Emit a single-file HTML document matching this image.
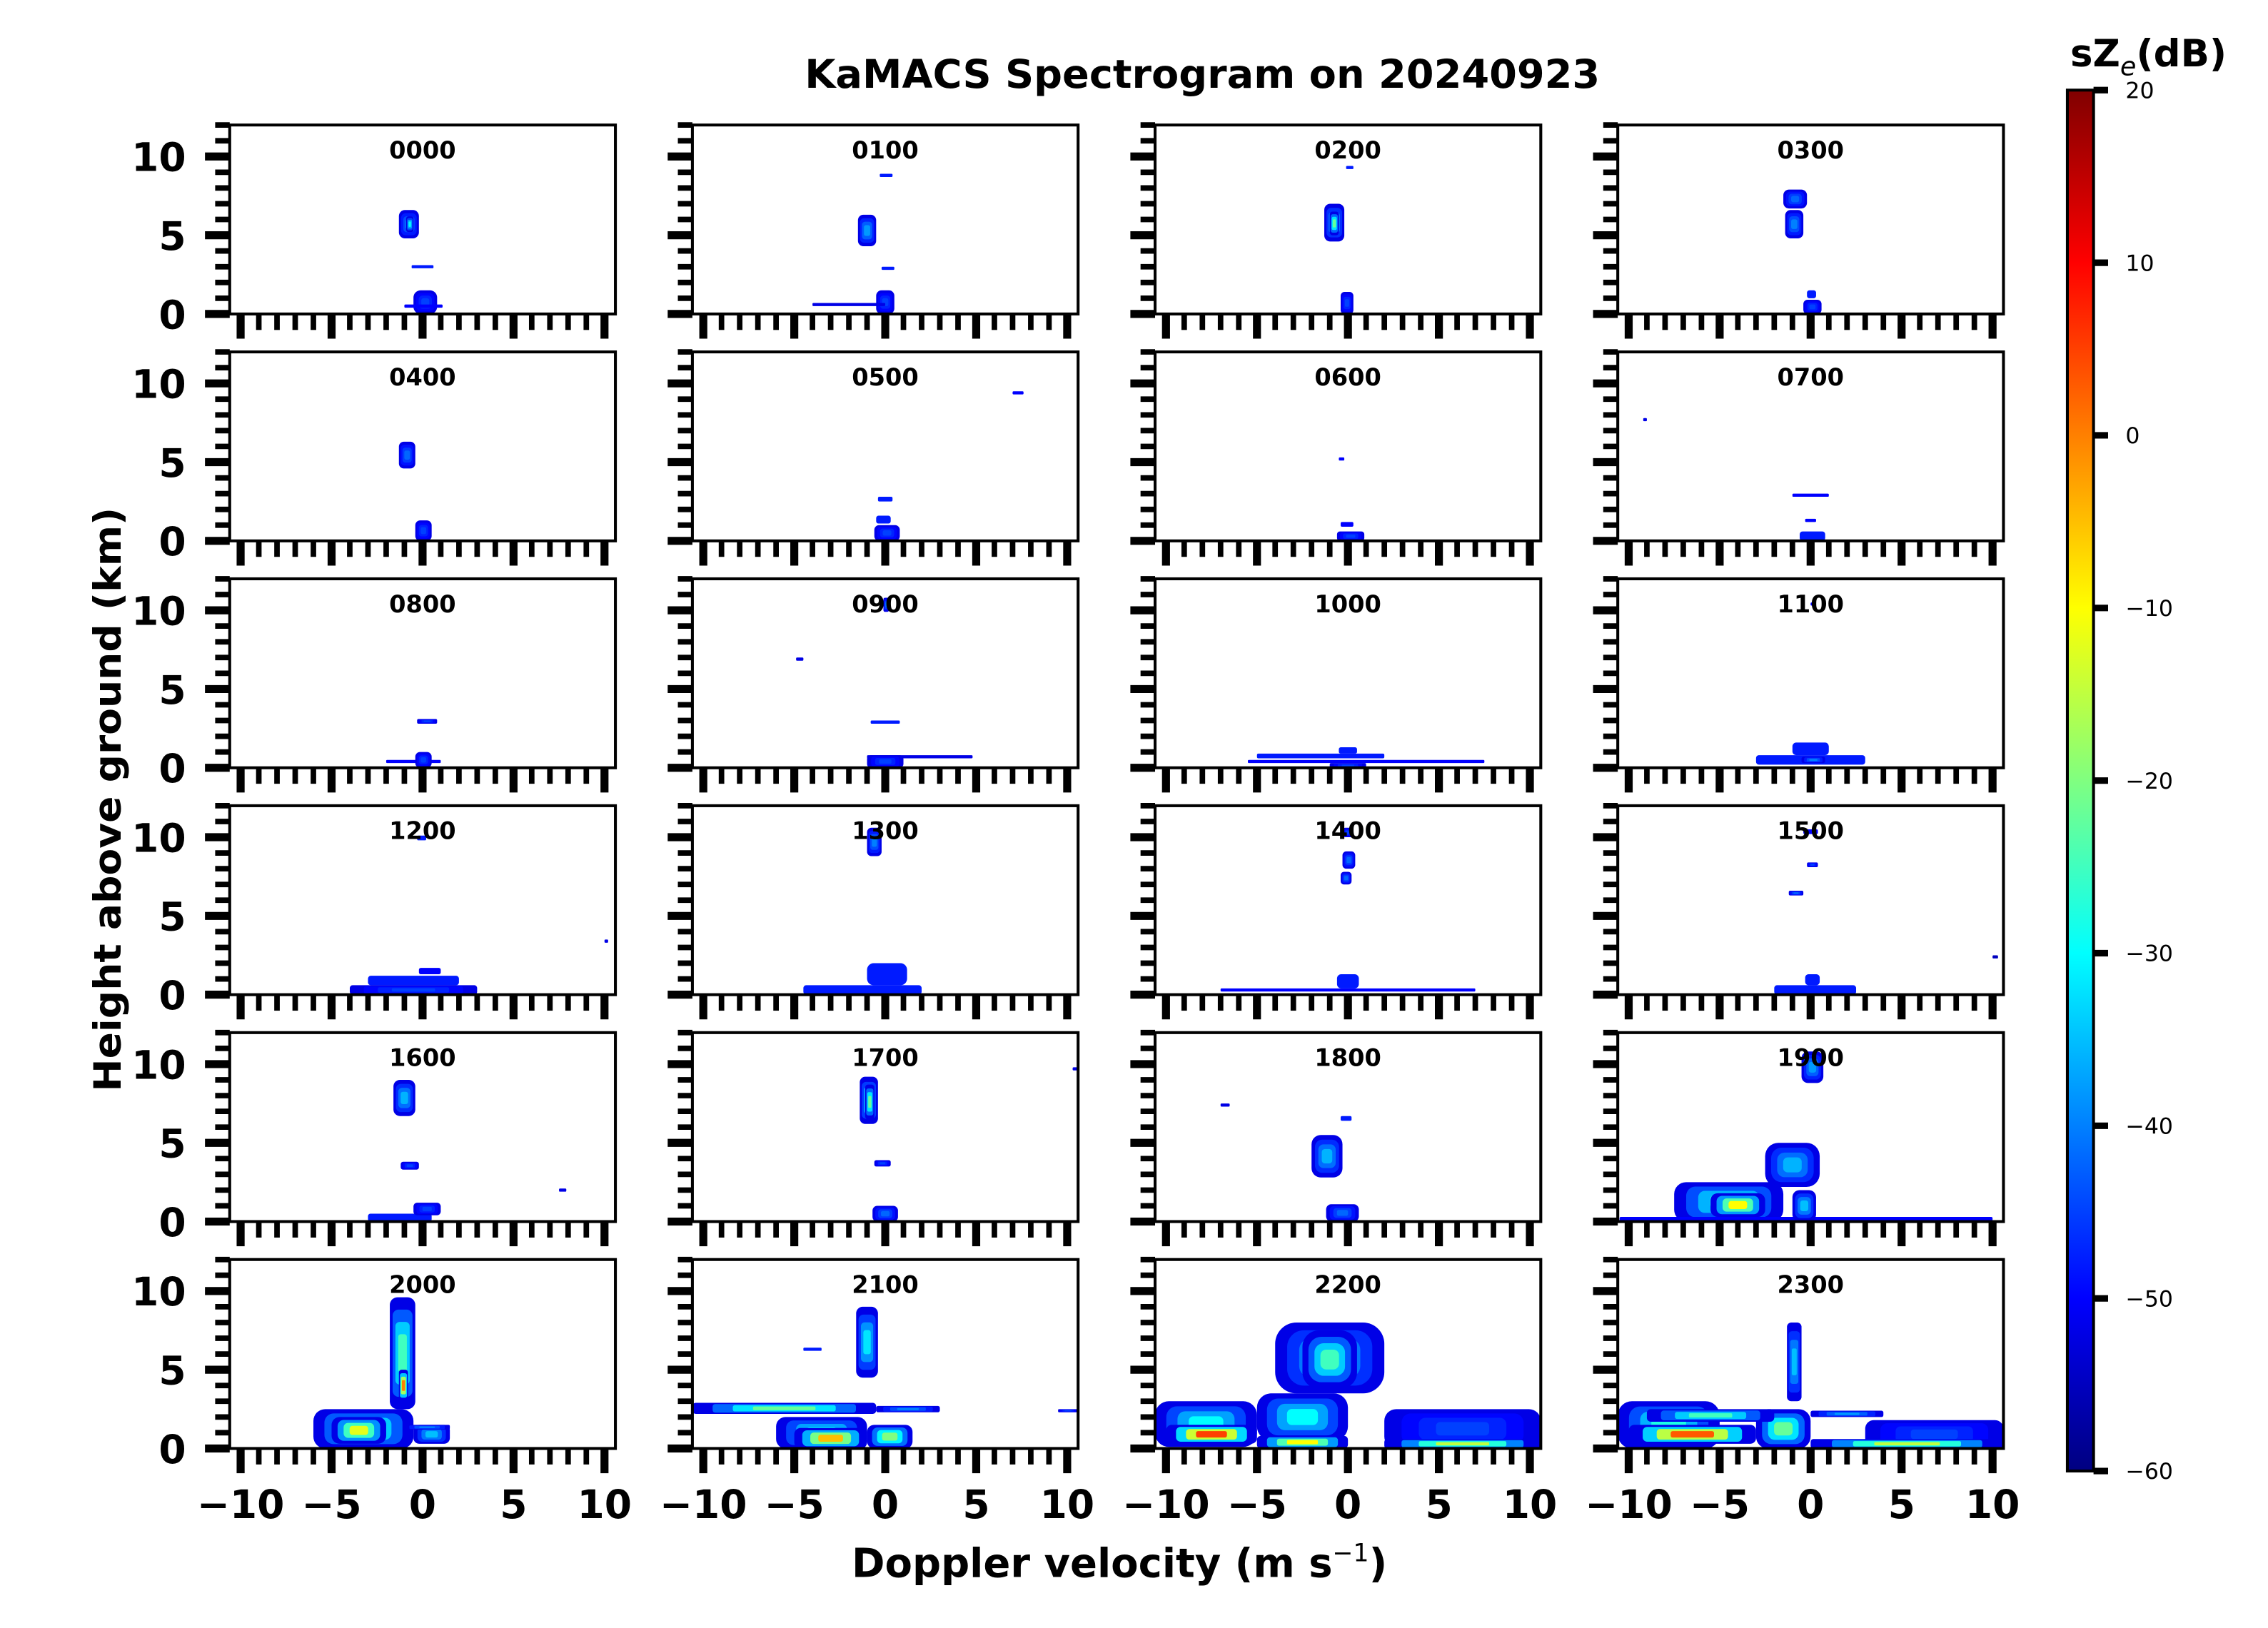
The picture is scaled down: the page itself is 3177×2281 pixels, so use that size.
<!DOCTYPE html>
<html><head><meta charset="utf-8"><style>
html,body{margin:0;padding:0;background:#fff}
svg{display:block;font-family:"DejaVu Sans","Liberation Sans",sans-serif}
</style></head><body>
<svg id="fig" xmlns="http://www.w3.org/2000/svg" width="3177" height="2281" viewBox="0 0 1560 1120" preserveAspectRatio="none">
<rect x="0" y="0" width="1560" height="1120" fill="#fff"/>
<text x="827" y="60.5" font-size="27" font-weight="bold" text-anchor="middle" textLength="547" lengthAdjust="spacingAndGlyphs">KaMACS Spectrogram on 20240923</text>
<text x="770" y="1085" font-size="27.5" font-weight="bold" text-anchor="middle">Doppler velocity (m s<tspan font-size="17" font-weight="normal" dy="-11">−1</tspan><tspan dy="11">)</tspan></text>
<text transform="translate(83,550) rotate(-90)" font-size="26" font-weight="bold" text-anchor="middle" textLength="402" lengthAdjust="spacingAndGlyphs">Height above ground (km)</text>
<g id="panels"></g>
<g id="cbar"></g>
<text x="1424" y="45.7" font-size="26" font-weight="bold">sZ<tspan font-size="18" font-weight="normal" font-style="italic" dy="6">e</tspan><tspan dy="-6">(dB)</tspan></text>
</svg>
<script>
const NS='http://www.w3.org/2000/svg';
const timeLabels=['0000','0100','0200','0300','0400','0500','0600','0700','0800','0900','1000','1100','1200','1300','1400','1500','1600','1700','1800','1900','2000','2100','2200','2300'];
const xTicks=[-10,-5,0,5,10];
const yTicks=[0,5,10];
const cbarTicks=[20,10,0,-10,-20,-30,-40,-50,-60];
// echo regions per panel: [vMin, vMax, hMin, hMax, peak dB]
const echoes=[
[[-1.3,-0.2,4.8,6.6,-40],[-0.9,-0.5,5.2,6.2,-30],[-0.6,0.6,2.9,3.1,-48],[-0.5,0.8,0,1.5,-45],[-1,1.1,0.4,0.6,-50]],
[[-1.5,-0.5,4.3,6.3,-38],[-0.3,0.4,8.7,8.9,-48],[-0.2,0.5,2.8,3.0,-48],[-0.5,0.5,0,1.5,-45],[-4,0,0.5,0.7,-52]],
[[-1.3,-0.2,4.6,7.0,-35],[-1,-0.5,5,6.5,-22],[-0.1,0.3,9.2,9.4,-48],[-0.4,0.3,0,1.4,-45]],
[[-1.5,-0.2,6.7,7.9,-42],[-1.4,-0.4,4.8,6.6,-40],[-0.2,0.3,1,1.5,-48],[-0.4,0.6,0,0.9,-45]],
[[-1.3,-0.4,4.6,6.3,-42],[-0.4,0.5,0,1.3,-45]],
[[7,7.6,9.3,9.5,-50],[-0.4,0.4,2.5,2.8,-48],[-0.5,0.3,1.1,1.6,-48],[-0.6,0.8,0,1,-45]],
[[-0.5,-0.2,5.1,5.3,-50],[-0.4,0.3,0.9,1.2,-50],[-0.6,0.9,0,0.6,-45]],
[[-9.2,-9,7.6,7.8,-52],[-1,1,2.8,3.0,-50],[-0.6,0.8,0,0.6,-48],[-0.3,0.3,1.2,1.4,-50]],
[[-0.3,0.8,2.8,3.1,-45],[-2,1,0.3,0.5,-50],[-0.4,0.5,0,1.0,-45]],
[[-0.1,0.2,9.9,10.8,-42],[-4.9,-4.5,6.8,7.0,-52],[-0.8,0.8,2.8,3.0,-48],[-1,4.8,0.6,0.8,-52],[-1,1,0,0.8,-45]],
[[-5.5,7.5,0.3,0.5,-50],[-5,2,0.6,0.9,-48],[-0.5,0.5,0.9,1.3,-48],[-1,1,0,0.3,-45]],
[[0,0.2,10.3,10.5,-50],[-3,3,0.2,0.8,-48],[-1,1,0.8,1.6,-48],[-0.5,0.8,0.3,0.7,-40]],
[[-0.3,0.2,9.8,10.1,-48],[-4,3,0,0.6,-45],[-3,2,0.6,1.2,-48],[-0.2,1,1.3,1.7,-50],[10,10.2,3.3,3.5,-52]],
[[-1,-0.2,8.8,10.6,-40],[-4.5,2,0,0.6,-48],[-1,1.2,0.6,2,-48]],
[[-0.3,0.3,10,10.6,-45],[-0.3,0.4,8,9.1,-42],[-0.4,0.2,7,7.8,-42],[-7,7,0.2,0.4,-50],[-0.6,0.6,0.4,1.3,-48]],
[[-0.4,0.4,10.2,10.5,-50],[-0.2,0.4,8.1,8.4,-45],[-1.2,-0.4,6.3,6.6,-42],[-2,2.5,0,0.6,-48],[-0.3,0.5,0.6,1.3,-48],[10,10.3,2.3,2.5,-55]],
[[-1.6,-0.4,6.7,9.0,-36],[-1.2,-0.2,3.3,3.8,-45],[-3,0.5,0,0.5,-48],[-0.5,1,0.4,1.2,-45],[7.5,7.9,1.9,2.1,-52]],
[[-1.4,-0.4,6.2,9.2,-32],[-1.1,-0.6,6.5,8.7,-22],[-0.6,0.3,3.5,3.9,-45],[-0.7,0.7,0,1.0,-42],[10.3,10.6,9.6,9.8,-52]],
[[-2,-0.3,2.8,5.5,-36],[-0.4,0.2,6.4,6.7,-48],[-7,-6.5,7.3,7.5,-52],[-1.2,0.6,0,1.1,-42]],
[[-0.5,0.7,8.8,10.8,-38],[-2.5,0.5,2.2,5.0,-36],[-7.5,-1.5,0,2.5,-28],[-5.5,-2.5,0.3,1.8,-10],[-10.5,10,0,0.3,-50],[-1,0.3,0,2,-35]],
[[-1.8,-0.4,2.5,9.6,-25],[-1.3,-0.8,3,5,0],[-6,-0.5,0,2.5,-25],[-5,-2,0.3,2,-12],[-0.5,1.5,0.3,1.5,-35],[-1,1.5,1.2,1.5,-40]],
[[-1.6,-0.4,4.5,9.0,-32],[-10.6,-0.5,2.2,2.9,-22],[-0.5,3,2.3,2.7,-40],[-6,-1,0,2,-30],[-5,-1,0,1.3,-5],[-1,1.5,0,1.5,-20],[-4.5,-3.5,6.2,6.4,-48],[9.5,10.6,2.3,2.5,-45]],
[[-10.6,-5,0.1,3.0,-30],[-10,-5,0.3,1.5,5],[-5,0,0.5,3.5,-30],[-4,2,3.5,8,-35],[-2.5,0.5,3.8,7.5,-25],[2,10.6,0,2.5,-45],[2,10.6,0,0.6,-15],[-5,0,0,0.8,-10]],
[[-10.6,-5,0,3,-28],[-10,-3,0.3,1.5,3],[-3,0,0,2.5,-22],[-1.3,-0.5,3,8,-35],[-9,-2,1.7,2.5,-25],[0,4,2,2.4,-38],[3,10.6,0,1.8,-45],[0,10.6,0,0.6,-15]]
];
const XMIN=-10.6,XMAX=10.6,YMIN=0,YMAX=12,ZMIN=-60,ZMAX=20;
const L0=158,PW=265.3,CP=318.25,T0=86,PH=130,RP=156.1;
function jet(v){
  let t=(v-ZMIN)/(ZMAX-ZMIN);t=Math.max(0,Math.min(1,t));
  const f=x=>Math.max(0,Math.min(1,x));
  const r=f(1.5-Math.abs(4*t-3)),g=f(1.5-Math.abs(4*t-2)),b=f(1.5-Math.abs(4*t-1));
  return 'rgb('+Math.round(r*255)+','+Math.round(g*255)+','+Math.round(b*255)+')';
}
function mk(tag,attrs,parent){const e=document.createElementNS(NS,tag);for(const k in attrs)e.setAttribute(k,attrs[k]);if(parent)parent.appendChild(e);return e;}
const panels=document.getElementById('panels');
const defs=mk('defs',{},document.getElementById('fig'));
timeLabels.forEach((lab,i)=>{
  const col=i%4,row=Math.floor(i/4);
  const x0=L0+col*CP,y0=T0+row*RP;
  const xs=v=>x0+(v-XMIN)/(XMAX-XMIN)*PW;
  const ys=h=>y0+PH-(h-YMIN)/(YMAX-YMIN)*PH;
  const g=mk('g',{},panels);
  
  
  const cp=mk('clipPath',{id:'cp'+i},defs);
  mk('rect',{x:x0,y:y0,width:PW,height:PH},cp);
  const dg=mk('g',{'clip-path':'url(#cp'+i+')'},g);
  echoes[i].forEach((e,j)=>{
    const [v0,v1,h0,h1,z]=e;
    const N=z<-46?1:4;
    for(let k=0;k<N;k++){
      const s=k*0.22;
      const zz=N===1?z:(-52+(z+52)*k/(N-1));
      const w=(v1-v0),h=(h1-h0);
      const a=v0+w*s/2,b=v1-w*s/2,c=h0+h*s/2,d=h1-h*s/2;
      const W=Math.max(0.8,xs(b)-xs(a)),H=Math.max(0.8,ys(c)-ys(d));
      const r=mk('rect',{x:xs(a),y:ys(d),width:W,height:H,rx:Math.min(W,H)*0.3,fill:jet(zz)},dg);
      
      
    }
  });
  mk('rect',{x:x0,y:y0,width:PW,height:PH,fill:'none',stroke:'#000','stroke-width':2},g);
  const t=mk('text',{x:x0+PW/2,y:y0+23,'font-size':16.5,'font-weight':'bold','text-anchor':'middle'},g);
  t.textContent=lab;
  
  
  for(let h=0;h<=YMAX;h++){
    const maj=yTicks.indexOf(h)>=0;
    mk('line',{x1:x0-(maj?17:10),x2:x0,y1:ys(h),y2:ys(h),stroke:'#000','stroke-width':maj?5.5:3.8},g);
  }
  for(let v=-10;v<=10;v++){
    const maj=xTicks.indexOf(v)>=0;
    mk('line',{x1:xs(v),x2:xs(v),y1:y0+PH,y2:y0+PH+(maj?17:11),stroke:'#000','stroke-width':maj?5.5:3.8},g);
  }
  if(col===0){
    yTicks.forEach(h=>{
      const tt=mk('text',{x:x0-30,y:ys(h)+10,'font-size':27,'font-weight':'bold','text-anchor':'end'},g);
      tt.textContent=String(h);
      
      
    });
  }
  if(row===5){
    xTicks.forEach(v=>{
      const tt=mk('text',{x:xs(v),y:1044.5,'font-size':27,'font-weight':'bold','text-anchor':'middle'},g);
      tt.textContent=(v<0?'−':'')+Math.abs(v);
      
      
    });
  }
});
const cb=document.getElementById('cbar');


const CX=1422,CW=18,CT=62,CB=1012;
const cys=z=>CT+(ZMAX-z)/(ZMAX-ZMIN)*(CB-CT);
const grad=mk('linearGradient',{id:'jetg',x1:0,y1:1,x2:0,y2:0},defs);
for(let k=0;k<=16;k++){const z=ZMIN+k*(ZMAX-ZMIN)/16;mk('stop',{offset:k/16,'stop-color':jet(z)},grad);}
mk('rect',{x:CX,y:CT,width:CW,height:CB-CT,fill:'url(#jetg)',stroke:'#000','stroke-width':2},cb);
cbarTicks.forEach(z=>{
  mk('line',{x1:CX+CW,x2:CX+CW+10,y1:cys(z),y2:cys(z),stroke:'#000','stroke-width':4.5},cb);
  const tt=mk('text',{x:1462,y:cys(z)+5.5,'font-size':15.5},cb);
  tt.textContent=(z<0?'−':'')+Math.abs(z);
  
  
});
</script>
</body></html>
